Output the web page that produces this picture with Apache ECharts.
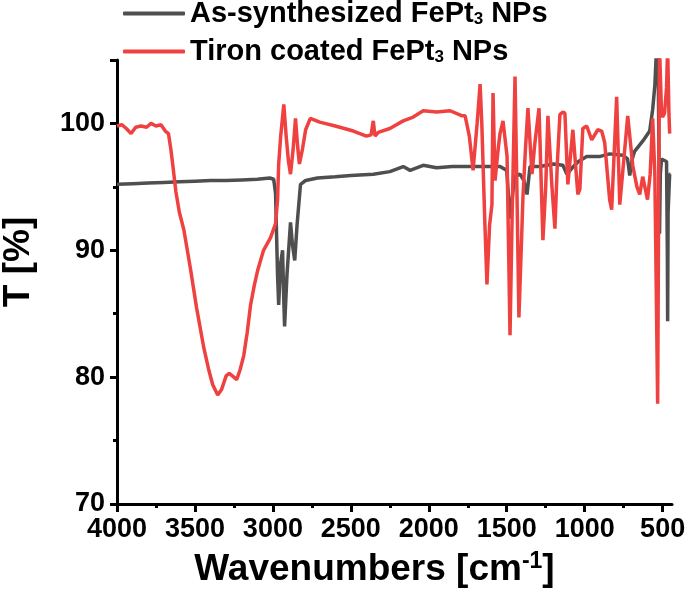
<!DOCTYPE html>
<html>
<head>
<meta charset="utf-8">
<script src="https://cdn.jsdelivr.net/npm/echarts@6/dist/echarts.min.js"></script>
<style>
  html, body {margin: 0; padding: 0; background: #fff;}
  #grafico {width: 685px; height: 593px;}
</style>
</head>
<body>
<div id="grafico"></div>
<script>
// As-synthesized FePt3 NPs (wavenumber, T%)
const waveAs = [4000, 3900, 3800, 3700, 3600, 3500, 3400, 3300, 3200, 3100, 3020, 2995, 2983, 2970, 2963, 2950, 2938, 2930, 2925, 2910, 2887, 2875, 2860, 2845, 2823, 2790, 2714, 2600, 2500, 2356, 2250, 2164, 2120, 2036, 1950, 1850, 1700, 1600, 1543, 1500, 1479, 1450, 1415, 1390, 1370, 1351, 1287, 1200, 1140, 1114, 1080, 1040, 987, 900, 840, 756, 725, 711, 695, 680, 628, 583, 564, 550, 539, 530, 522, 520, 515, 507, 494, 475, 470, 468, 465, 455, 450];
const transAs = [95.2, 95.25, 95.3, 95.35, 95.4, 95.45, 95.5, 95.5, 95.55, 95.6, 95.7, 95.6, 94.5, 88, 85.7, 89, 90, 86, 84.0, 88, 92.2, 90.5, 89.2, 92, 95.2, 95.5, 95.7, 95.8, 95.9, 96.0, 96.2, 96.6, 96.3, 96.7, 96.5, 96.6, 96.6, 96.6, 96.6, 96.3, 92.5, 95.8, 96.0, 95.5, 94.4, 96.6, 96.6, 96.8, 96.7, 96.0, 96.5, 97.0, 97.4, 97.4, 97.6, 97.5, 97.2, 95.9, 97.2, 97.8, 98.6, 99.4, 101.1, 103, 106, 107, 95, 91.3, 96, 97.2, 97.1, 97, 90, 84.4, 93, 96, 96];

// Tiron coated FePt3 NPs (wavenumber, T%)
const waveTiron = [4000, 3970, 3940, 3910, 3880, 3846, 3810, 3782, 3750, 3718, 3690, 3670, 3655, 3640, 3622, 3600, 3571, 3527, 3490, 3443, 3410, 3386, 3354, 3330, 3300, 3280, 3260, 3232, 3210, 3187, 3165, 3143, 3120, 3098, 3060, 3015, 2983, 2970, 2963, 2950, 2930, 2915, 2900, 2887, 2870, 2855, 2840, 2830, 2810, 2790, 2760, 2700, 2600, 2484, 2400, 2370, 2356, 2345, 2324, 2250, 2164, 2100, 2036, 1950, 1863, 1786, 1767, 1740, 1716, 1690, 1671, 1660, 1640, 1627, 1610, 1595, 1588, 1575, 1555, 1543, 1524, 1498, 1479, 1465, 1447, 1435, 1422, 1410, 1396, 1380, 1364, 1338, 1320, 1293, 1268, 1250, 1236, 1210, 1191, 1175, 1159, 1140, 1127, 1108, 1076, 1044, 1031, 1012, 987, 955, 916, 891, 872, 840, 827, 795, 775, 750, 724, 692, 665, 647, 628, 597, 580, 564, 550, 532, 525, 520, 507, 500, 488, 475, 468, 460, 455];
const transTiron = [99.8, 99.9, 99.6, 99.2, 99.7, 99.8, 99.7, 100.0, 99.8, 99.9, 99.4, 99.2, 98.0, 96.5, 94.6, 93.0, 91.6, 88.4, 85.5, 82.3, 80.5, 79.4, 78.6, 79.0, 80.1, 80.3, 80.1, 79.8, 80.6, 81.7, 83.5, 85.7, 87.2, 88.4, 90.0, 91.0, 92.1, 94, 96.8, 99, 101.5, 99, 97, 96, 98, 100.4, 98, 96.8, 98, 99.5, 100.4, 100.1, 99.8, 99.4, 99.0, 99.1, 100.2, 99.0, 99.3, 99.6, 100.2, 100.5, 101, 100.9, 101, 100.6, 100.6, 99, 96.3, 100, 103.1, 100, 92, 87.3, 92, 93.6, 102.4, 95.5, 98, 99.2, 100.2, 97.4, 83.3, 93, 103.7, 95, 84.7, 89, 94.2, 98, 101.2, 96, 98.4, 101.2, 90.8, 95, 100.6, 95, 91.7, 97, 100.7, 100.9, 100.8, 95.2, 99.5, 94.4, 94.8, 99.6, 99.8, 98.7, 99.5, 99.4, 98.5, 94, 93.2, 102.1, 93.6, 97, 100.6, 96.7, 95, 94.4, 95.8, 94, 96, 100.4, 96, 77.9, 95, 106, 100.7, 100.5, 100.8, 102.8, 106, 101, 99.2];

const xMajorTicks = [500, 1000, 1500, 2000, 2500, 3000, 3500, 4000];
const xMinorTicks = [750, 1250, 1750, 2250, 2750, 3250, 3750];

const nombres = ['As-synthesized FePt3 NPs', 'Tiron coated FePt3 NPs'];
const colores = ['#4f4f4f', '#f04141'];

function zip(xs, ys) {
    return xs.map((x, i) => [x, ys[i]]);
}

const fuente = 'Liberation Sans, Arial, sans-serif';
const ejeComun = {
    type: 'value',
    inverse: true,
    min: 440,
    max: 4000,
    position: 'bottom'
};

let chart = echarts.init(document.getElementById('grafico'));
chart.setOption({
    animation: false,
    backgroundColor: '#fff',
    textStyle: {fontFamily: fuente},
    grid: {left: 117, right: 13, top: 60, bottom: 89, outerBoundsMode: 'none', containLabel: false},
    legend: {
        orient: 'vertical',
        left: 118,
        top: -6,
        itemWidth: 62,
        itemHeight: 4,
        itemGap: 9,
        icon: 'roundRect',
        data: nombres,
        formatter: n => {
            let partes = n.split('FePt3');
            return '{b|' + partes[0] + 'FePt}{s|3}{b|' + partes[1] + '}';
        },
        textStyle: {
            rich: {
                b: {fontSize: 29, fontWeight: 'bold', color: '#000', fontFamily: fuente, lineHeight: 29},
                s: {fontSize: 17, fontWeight: 'bold', color: '#000', fontFamily: fuente, verticalAlign: 'bottom', padding: [12, 0, 0, 0]}
            }
        }
    },
    xAxis: [
        Object.assign({}, ejeComun, {
            name: '{t|Wavenumbers [cm}{p|-1}{t|]}',
            nameLocation: 'middle',
            nameGap: 46,
            nameTextStyle: {
                padding: [0, 40, 0, 0],
                rich: {
                    t: {fontSize: 37, fontWeight: 'bold', color: '#000', fontFamily: fuente},
                    p: {fontSize: 23, fontWeight: 'bold', color: '#000', fontFamily: fuente, verticalAlign: 'top', padding: [0, 0, 17, 0]}
                }
            },
            axisLine: {onZero: false, lineStyle: {color: '#000', width: 3}},
            axisTick: {show: true, customValues: xMajorTicks, length: 8, lineStyle: {color: '#000', width: 3}},
            axisLabel: {customValues: xMajorTicks, fontSize: 27, fontWeight: 'bold', color: '#000', margin: 12, formatter: v => String(v)},
            splitLine: {show: false}
        }),
        Object.assign({}, ejeComun, {
            axisLine: {show: false, onZero: false},
            axisTick: {show: true, customValues: xMinorTicks, length: 4, lineStyle: {color: '#000', width: 3}},
            axisLabel: {show: false},
            splitLine: {show: false}
        })
    ],
    yAxis: {
        type: 'value',
        min: 70,
        max: 105,
        interval: 10,
        name: 'T [%]',
        nameLocation: 'middle',
        nameGap: 80,
        nameTextStyle: {fontSize: 37, fontWeight: 'bold', color: '#000', padding: [0, -40, 0, 0]},
        axisLine: {show: true, lineStyle: {color: '#000', width: 3}},
        axisTick: {show: true, length: 7, lineStyle: {color: '#000', width: 3}},
        minorTick: {show: true, splitNumber: 2, length: 4, lineStyle: {color: '#000', width: 3}},
        axisLabel: {fontSize: 27, fontWeight: 'bold', color: '#000', margin: 12, showMaxLabel: false},
        splitLine: {show: false}
    },
    series: [
        {
            name: nombres[0],
            type: 'line',
            showSymbol: false,
            color: colores[0],
            lineStyle: {width: 3.5, color: colores[0]},
            data: zip(waveAs, transAs)
        },
        {
            name: nombres[1],
            type: 'line',
            showSymbol: false,
            color: colores[1],
            lineStyle: {width: 3.5, color: colores[1]},
            data: zip(waveTiron, transTiron)
        }
    ]
});
</script>
</body>
</html>
